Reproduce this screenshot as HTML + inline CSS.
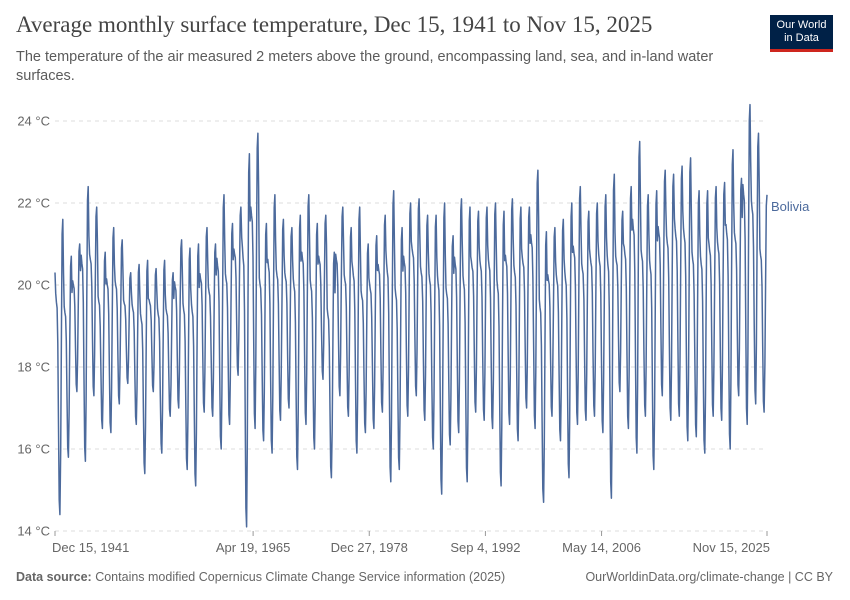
<!DOCTYPE html>
<html><head><meta charset="utf-8"><style>
body{margin:0;background:#fff;font-family:"Liberation Sans",sans-serif;}
#wrap{position:relative;width:850px;height:600px;overflow:hidden;}
.t{position:absolute;white-space:nowrap;}
</style></head><body>
<div id="wrap">
<div class="t" style="left:16px;top:12px;font-family:'Liberation Serif',serif;font-size:23px;color:#444;">Average monthly surface temperature, Dec 15, 1941 to Nov 15, 2025</div>
<div class="t" style="left:16px;top:48px;font-size:14.5px;color:#5b5b5b;white-space:normal;width:740px;line-height:19px;">The temperature of the air measured 2 meters above the ground, encompassing land, sea, and in-land water surfaces.</div>
<div style="position:absolute;left:770px;top:15px;width:63px;height:37px;background:#002147;border-bottom:3px solid #ce261e;box-sizing:border-box;color:#fff;font-size:11px;line-height:13px;text-align:center;padding-top:4px;">Our World<br>in Data</div>
<svg id="chart" width="850" height="600" style="position:absolute;left:0;top:0"></svg>
<div class="t" style="left:16px;top:570px;font-size:12.5px;color:#666;"><b>Data source:</b> Contains modified Copernicus Climate Change Service information (2025)</div>
<div class="t" style="right:17px;top:570px;font-size:12.5px;color:#666;">OurWorldinData.org/climate-change | CC BY</div>
</div>
<script>
const yTicks=[14,16,18,20,22,24];
const tickLabels=["Dec 15, 1941","Apr 19, 1965","Dec 27, 1978","Sep 4, 1992","May 14, 2006","Nov 15, 2025"];
const tickDates=[1941.95,1965.3,1978.99,1992.68,2006.37,2025.87];
const yearHighs=[21.6,20.7,21.0,22.4,21.9,20.8,21.4,21.1,20.3,20.5,20.6,20.4,20.6,20.3,21.1,20.9,21.0,21.4,21.0,22.2,21.5,21.9,23.2,23.7,21.5,22.2,21.6,21.4,21.7,22.2,21.5,21.7,20.8,21.9,21.4,21.9,21.0,21.2,21.7,22.3,21.4,22.0,22.1,21.7,21.7,22.0,21.2,22.1,21.9,21.8,21.9,22.0,21.8,22.1,21.9,21.9,22.8,21.3,21.4,21.6,22.0,22.4,21.8,22.0,22.2,22.7,21.8,22.4,23.5,22.2,22.3,22.8,22.7,22.9,23.1,22.3,22.3,22.4,22.5,23.3,22.6,24.4,23.7,22.2];
const yearLows=[14.4,15.8,17.4,15.7,17.3,16.5,16.4,17.1,17.6,16.6,15.4,17.4,15.9,16.8,17.0,15.5,15.1,16.9,16.8,16.0,16.6,17.8,14.1,16.5,16.2,15.9,16.7,17.0,15.5,16.6,16.0,17.7,15.3,17.3,16.8,15.9,16.4,16.5,16.9,15.2,15.5,16.8,17.3,16.7,16.0,14.9,16.1,16.4,15.2,16.9,16.7,16.5,15.1,16.6,16.2,17.0,16.5,14.7,16.8,16.2,15.3,16.6,16.7,16.8,16.4,14.8,17.4,16.5,15.9,16.8,15.5,17.3,16.7,16.8,16.2,16.3,15.9,16.8,16.7,16.0,17.3,16.6,17.1,16.9];
const monthShape=[0.75,0.72,0.7,0.58,0.3,0.05,0,0.22,0.6,0.95,1.0,0.82];
const NS="http://www.w3.org/2000/svg";
const svg=document.getElementById('chart');
const x0=55,x1=767,t0=1941.95,t1=2025.87;
const xS=t=>x0+(t-t0)/(t1-t0)*(x1-x0);
const yS=v=>531-(v-14)*41;
function mk(tag,at){const e=document.createElementNS(NS,tag);for(const k in at)e.setAttribute(k,at[k]);svg.appendChild(e);return e;}
yTicks.forEach(v=>{
  const g=mk('line',{x1:x0,x2:x1,y1:yS(v),y2:yS(v),stroke:'#ddd','stroke-dasharray':'4,4'});
  
  
  const t=mk('text',{x:50,y:yS(v)+4.5,'text-anchor':'end','font-size':13,fill:'#666','font-family':'Liberation Sans, sans-serif'});
  t.textContent=v+' °C';
  
  
});
tickDates.forEach((d,i)=>{
  const x=xS(d);
  const tk=mk('line',{x1:x,x2:x,y1:531,y2:536,stroke:'#999'});
  
  
  const anchor=i==0?'start':(i==tickDates.length-1?'end':'middle');
  const t=mk('text',{x:i==0?x-3:(i==tickDates.length-1?x+3:x),y:552,'text-anchor':anchor,'font-size':13,fill:'#666','font-family':'Liberation Sans, sans-serif'});
  t.textContent=tickLabels[i];
  
  
});
// monthly series Dec 1941 .. Nov 2025
const pts=[];
const n=yearHighs.length*12;
for(let k=0;k<n;k++){
  const m=(k+11)%12;           // 0=Jan
  const yi=Math.min(yearHighs.length-1,Math.floor((k+11)/12)-(m>=11?0:0));
  let yIdx=Math.floor((k+11)/12)-1; if(m>=9) yIdx=Math.min(yIdx,yearHighs.length-1);
  yIdx=Math.max(0,Math.min(yearHighs.length-1,yIdx));
  const v=yearLows[yIdx]+(yearHighs[yIdx]-yearLows[yIdx])*monthShape[m];
  pts.push([xS(t0+k/12),yS(v)]);
}
const line=mk('path',{d:'M'+pts.map(p=>p[0].toFixed(1)+','+p[1].toFixed(1)).join('L'),fill:'none',stroke:'#4c6a9c','stroke-width':1.5,'stroke-linejoin':'round'});


const lb=mk('text',{x:771,y:211,'font-size':13,fill:'#4c6a9c','font-family':'Liberation Sans, sans-serif'});
lb.textContent='Bolivia';


</script>
</body></html>
